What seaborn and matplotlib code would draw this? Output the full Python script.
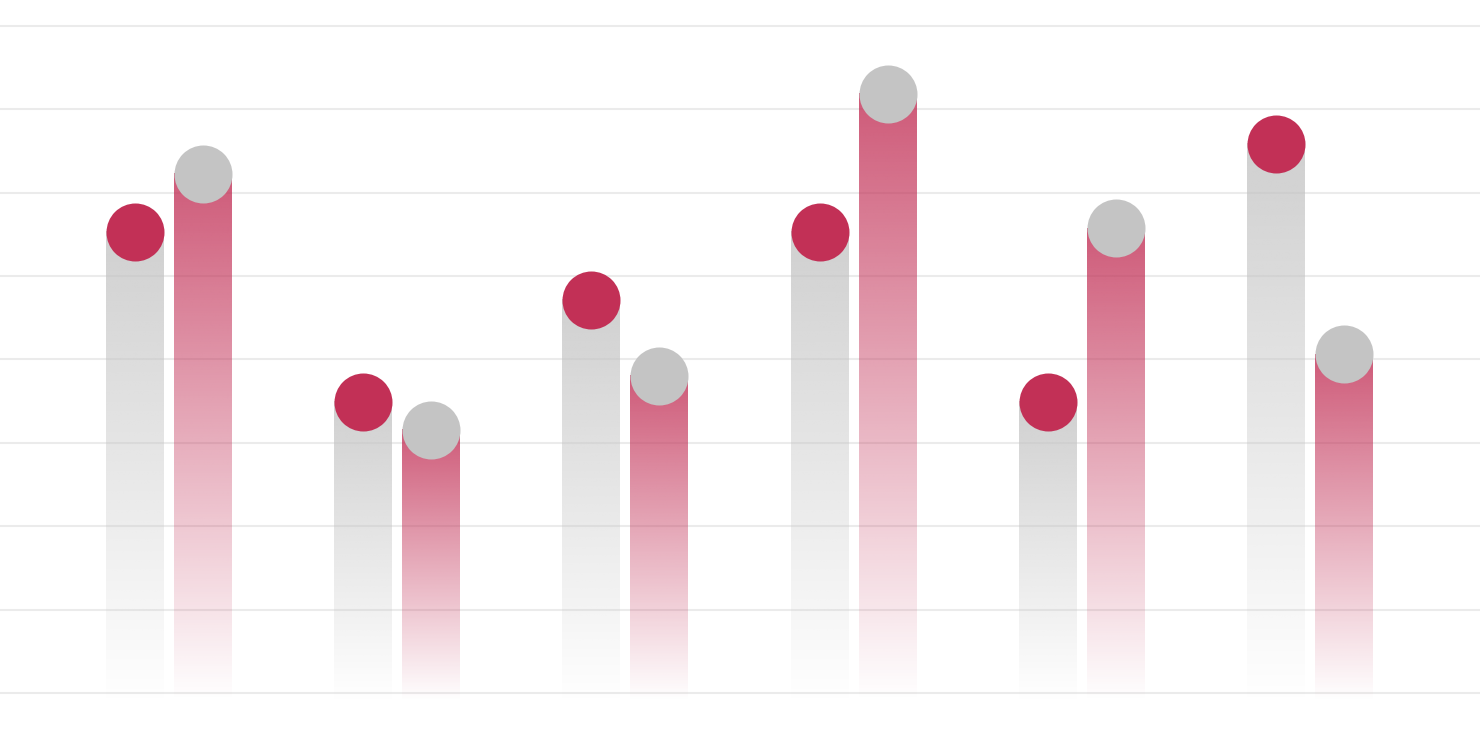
import numpy as np
import pandas as pd
import matplotlib
matplotlib.use("Agg")
import matplotlib.pyplot as plt
import seaborn as sns
from matplotlib.colors import to_rgb

# ---- data ----
groups = ["G1", "G2", "G3", "G4", "G5", "G6"]
series = ["Gray", "Red"]
gray_values = [55.3, 34.9, 47.1, 55.3, 34.9, 65.8]
red_values = [62.2, 31.5, 38.0, 71.8, 55.7, 40.6]
grid_ticks = [0, 10, 20, 30, 40, 50, 60, 70, 80]

RED = "#c23056"
GRAY = "#c4c4c4"

df = pd.DataFrame({
    "group": groups * 2,
    "series": [series[0]] * len(groups) + [series[1]] * len(groups),
    "value": gray_values + red_values,
})

sns.set_style("white")
fig = plt.figure(figsize=(14.8, 7.3), dpi=100)
ax = fig.add_axes([0, 0, 1, 1])

sns.barplot(data=df, x="group", y="value", hue="series", order=groups,
            hue_order=series, palette=[GRAY, RED], width=0.596, gap=0.148,
            dodge=True, legend=False, errorbar=None, ax=ax)

bar_colors = {0: GRAY, 1: RED}
dot_colors = {0: RED, 1: GRAY}
n = 256
t = np.linspace(0, 1, n)
alpha_profile = 0.8 * (1 - t)

dot_x, dot_y, dot_c = [], [], []
for ci, cont in enumerate(ax.containers):
    rgb = to_rgb(bar_colors[ci])
    img = np.zeros((n, 1, 4))
    img[:, 0, :3] = rgb
    img[:, 0, 3] = alpha_profile
    for bar in cont:
        x0 = bar.get_x()
        w = bar.get_width()
        h = bar.get_height()
        bar.set_visible(False)
        ax.imshow(img, extent=[x0, x0 + w, -1, h], origin="upper",
                  aspect="auto", interpolation="bilinear", zorder=2)
        dot_x.append(x0 + w / 2)
        dot_y.append(h)
        dot_c.append(dot_colors[ci])

dots = pd.DataFrame({"x": dot_x, "y": dot_y, "c": dot_c})
for col, sub in dots.groupby("c"):
    sns.scatterplot(data=sub, x="x", y="y", color=col, s=1744, linewidth=0,
                    ax=ax, zorder=3, legend=False)

ax.set_xlim(-0.741, 5.745)
ax.set_ylim(-4.44, 83.09)
ax.set_yticks(grid_ticks)
ax.yaxis.grid(True, color="#ebebeb", linewidth=1.5)
ax.xaxis.grid(False)
ax.set_axisbelow(True)
ax.tick_params(length=0, labelleft=False, labelbottom=False)
ax.set_xlabel("")
ax.set_ylabel("")
for s in ax.spines.values():
    s.set_visible(False)

fig.savefig("out.png", dpi=100)
